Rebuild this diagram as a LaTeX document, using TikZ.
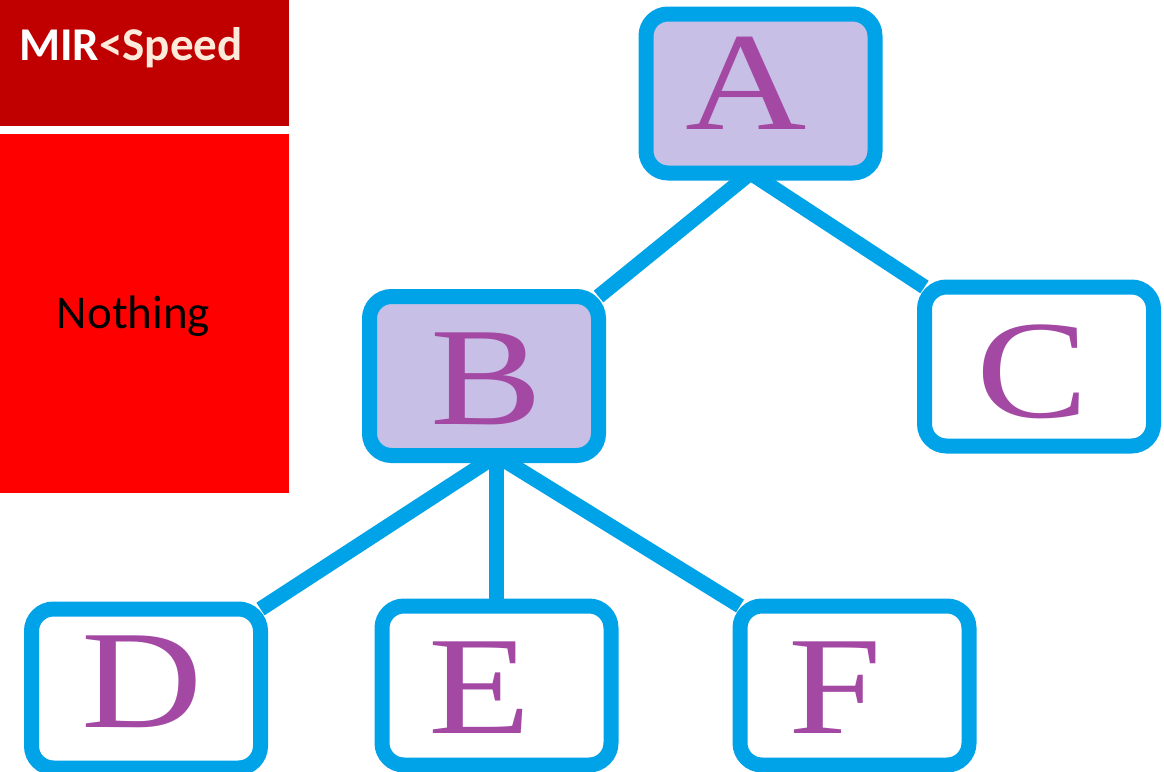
\documentclass[tikz,border=0pt]{standalone}
\usepackage{fontspec}
\usepackage{graphicx}
\usetikzlibrary{backgrounds}
\newfontfamily\treeletterfont{Liberation Serif}
\newfontfamily\panelfont{Carlito}
\definecolor{treeblue}{RGB}{0,162,232}
\definecolor{lavender}{RGB}{200,191,231}
\definecolor{letterpurple}{RGB}{163,73,164}
\definecolor{darkred}{RGB}{192,0,0}
\definecolor{brightred}{RGB}{255,0,0}
\definecolor{cream}{RGB}{253,234,218}
\begin{document}
\begin{tikzpicture}[x=1pt,y=-1pt,
  treebox/.style={draw=treeblue, line width=15pt, rounded corners=22pt,
    minimum width=229pt, minimum height=159pt, inner sep=0pt, outer sep=0pt},
  filledbox/.style={treebox, fill=lavender},
  letter/.style={text=letterpurple, inner sep=0pt,
    font=\treeletterfont\fontsize{140}{140}\selectfont},
  link/.style={draw=treeblue, line width=15pt},
  panel/.style={inner sep=0pt, outer sep=0pt, anchor=north west},
  paneltext/.style={inner sep=0pt, font=\panelfont\fontsize{47}{47}\selectfont}
  ]
\useasboundingbox (0,0) rectangle (1164,771);

% left-hand panels
\node[panel, fill=darkred, minimum width=289pt, minimum height=126pt] (hdr) at (0,0) {};
\node[panel, fill=brightred, minimum width=289pt, minimum height=359pt] (body) at (0,134) {};
\node[paneltext, anchor=base west, font=\panelfont\bfseries\fontsize{47}{47}\selectfont]
  (hdrtext) at (19,60) {\textcolor{white}{MIR}\textcolor{cream}{<Speed}};
\node[paneltext, anchor=base, text=black] (bodytext) at (133.5,328) {Nothing};

% tree boxes
\node[filledbox] (A) at (760.5,93.5) {};
\node[filledbox] (B) at (484,376) {};
\node[treebox]   (C) at (1039,366.5) {};
\node[treebox]   (D) at (146,688.5) {};
\node[treebox]   (E) at (496.5,685.5) {};
\node[treebox]   (F) at (854.5,685.5) {};

% links between the boxes, kept behind them
\begin{scope}[on background layer]
\coordinate (Aroot) at ([xshift=-10pt]A.south);
\coordinate (Broot) at (E.north |- B.south);
\draw[link] (Aroot) -- (B.north east);
\draw[link] (Aroot) -- (C.north west);
\draw[link] (Broot) -- (D.north east);
\draw[link] (Broot) -- (E.north);
\draw[link] (Broot) -- (F.north west);
\end{scope}

% letters
\node[letter] (tA) at ([shift={(-14,-10)}]A.center) {\scalebox{1.2}[1]{A}};
\node[letter] (tB) at ([shift={(2.5,2.5)}]B.center) {\scalebox{1.2}[1]{B}};
\node[letter] (tC) at ([shift={(-6,5.5)}]C.center) {\scalebox{1.2}[1]{C}};
\node[letter] (tD) at ([shift={(-4,-6.5)}]D.center) {\scalebox{1.2}[1]{D}};
\node[letter] (tE) at ([shift={(-17,2.5)}]E.center) {\scalebox{1.2}[1]{E}};
\node[letter] (tF) at ([shift={(-19,2.5)}]F.center) {\scalebox{1.2}[1]{F}};
\end{tikzpicture}
\end{document}
